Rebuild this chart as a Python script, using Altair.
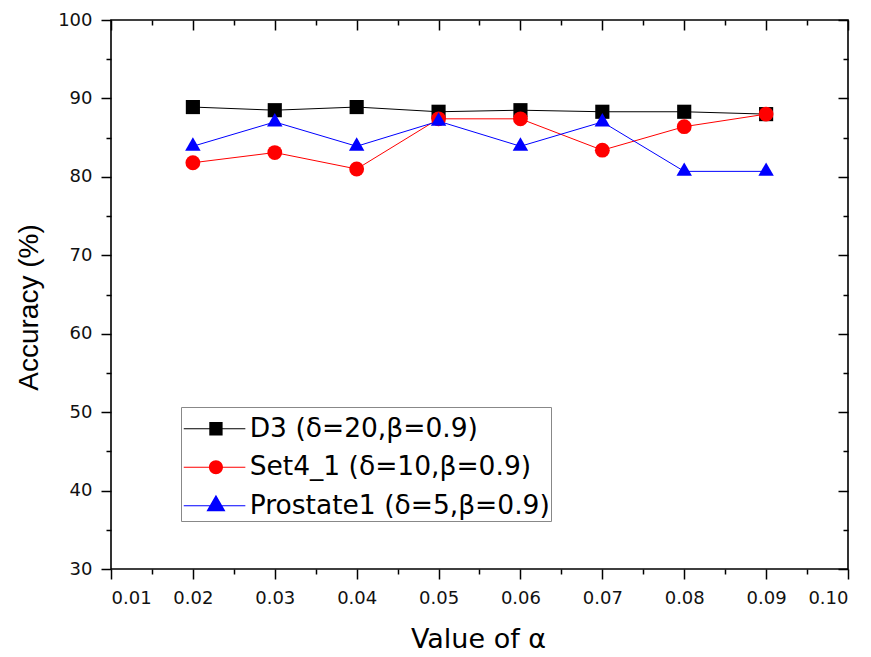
import altair as alt
import pandas as pd

# ---------------- data ----------------
alphas = [0.02, 0.03, 0.04, 0.05, 0.06, 0.07, 0.08, 0.09]
series_names = ["D3 (δ=20,β=0.9)", "Set4_1 (δ=10,β=0.9)", "Prostate1 (δ=5,β=0.9)"]
d3 = [88.9, 88.5, 88.9, 88.3, 88.5, 88.3, 88.3, 88.0]
set4_1 = [81.8, 83.1, 81.0, 87.4, 87.4, 83.4, 86.4, 88.0]
prostate1 = [83.9, 87.0, 83.9, 87.1, 83.9, 87.0, 80.7, 80.7]
series_colors = ["#000000", "#ff0000", "#0000ff"]

x_major = [0.01, 0.02, 0.03, 0.04, 0.05, 0.06, 0.07, 0.08, 0.09, 0.10]
x_minor = [0.015, 0.025, 0.035, 0.045, 0.055, 0.065, 0.075, 0.085, 0.095]
y_major = [30, 40, 50, 60, 70, 80, 90, 100]
y_minor = [35, 45, 55, 65, 75, 85, 95]

rows = []
for name, vals in zip(series_names, [d3, set4_1, prostate1]):
    for a, v in zip(alphas, vals):
        rows.append({"series": name, "alpha": a, "acc": v})
df = pd.DataFrame(rows)

# ---------------- styling ----------------
FONT = "DejaVu Sans"
TRI = "M0,-1.155L1,0.577L-1,0.577Z"
plot_shapes = ["square", "circle", TRI]
plot_sizes = [200, 240, 361]

LINE = "M-4.6,-0.07H4.2V0.07H-4.6Z"
legend_shapes = [
    LINE + "M-0.95,-0.95H0.95V0.95H-0.95Z",
    LINE + "M1,0A1,1 0 1,1 -1,0A1,1 0 1,1 1,0Z",
    LINE + "M0,-1.57L1.36,0.785L-1.36,0.785Z",
]

xscale = alt.Scale(domain=[0.01, 0.10], nice=False, zero=False)
yscale = alt.Scale(domain=[30, 100], nice=False, zero=False)


def ax(orient, values, tick, labels=False, offset=0, title=None, **kw):
    args = dict(
        orient=orient, values=values, tickSize=tick, labels=labels,
        domain=False, grid=False, ticks=True, tickColor="#000000",
        tickWidth=1.5, offset=offset, title=title,
    )
    args.update(kw)
    return alt.Axis(**args)


base = alt.Chart(df)

lines = base.mark_line(strokeWidth=1).encode(
    x=alt.X("alpha:Q", scale=xscale,
            axis=ax("bottom", x_major, 10, labels=True, title="Value of α",
                    format=".2f", labelFont=FONT, labelFontSize=18, labelColor="#111111",
                    labelPadding=10, titleFont=FONT, titleFontSize=27, titleFontWeight="normal",
                    titleColor="#000000", titleX=367, titleY=78, titleBaseline="alphabetic",
                    titleAlign="center")),
    y=alt.Y("acc:Q", scale=yscale,
            axis=ax("left", y_major, 10, labels=True, title="Accuracy (%)",
                    labelFont=FONT, labelFontSize=18, labelColor="#111111", labelPadding=9,
                    titleFont="Liberation Sans", titleFontSize=28, titleFontWeight="normal",
                    titleColor="#000000", titleX=-74, titleY=287, titleAngle=270,
                    titleBaseline="alphabetic", titleAlign="center")),
    color=alt.Color("series:N", scale=alt.Scale(domain=series_names, range=series_colors), legend=None),
    detail="series:N",
)

points = base.mark_point(filled=True, opacity=1, strokeWidth=0).encode(
    x=alt.X("alpha:Q", scale=xscale, axis=ax("bottom", x_minor, 5)),
    y=alt.Y("acc:Q", scale=yscale, axis=ax("left", y_minor, 5)),
    color=alt.Color("series:N", scale=alt.Scale(domain=series_names, range=series_colors), legend=None),
    shape=alt.Shape("series:N", scale=alt.Scale(domain=series_names, range=plot_shapes), legend=None),
    size=alt.Size("series:N", scale=alt.Scale(domain=series_names, range=plot_sizes), legend=None),
)

legend_props = dict(
    orient="none", legendX=70, legendY=387, title=" ",
    titleFontSize=1, titlePadding=6.5,
    symbolSize=196, symbolStrokeWidth=0, symbolOffset=20.7,
    labelOffset=20.5, labelFont=FONT, labelFontSize=26.5, labelColor="#000000",
    labelLimit=500,
    padding=1, rowPadding=11.5, strokeColor="#888888", fillColor="#ffffff",
)

legend_layer = base.transform_filter("false").mark_point(filled=True, opacity=1).encode(
    x=alt.X("alpha:Q", scale=xscale, axis=ax("top", x_major, 10, offset=-10)),
    y=alt.Y("acc:Q", scale=yscale, axis=ax("right", y_major, 10, offset=-10)),
    color=alt.Color("series:N", scale=alt.Scale(domain=series_names, range=series_colors),
                    legend=alt.Legend(**legend_props)),
    shape=alt.Shape("series:N", scale=alt.Scale(domain=series_names, range=legend_shapes),
                    legend=alt.Legend(**legend_props)),
)

minor_top_right = base.transform_filter("false").mark_point(opacity=1).encode(
    x=alt.X("alpha:Q", scale=xscale, axis=ax("top", x_minor, 5, offset=-5)),
    y=alt.Y("acc:Q", scale=yscale, axis=ax("right", y_minor, 5, offset=-5)),
)

chart = alt.layer(lines, points, legend_layer, minor_top_right).resolve_scale(
    color="independent", shape="independent"
).resolve_axis(
    x="independent", y="independent"
).properties(
    width=737, height=549,
    autosize=alt.AutoSizeParams(type="none"),
    padding={"left": 111, "top": 20, "right": 23, "bottom": 88},
    background="#ffffff",
).configure_view(
    stroke="#000000", strokeWidth=1.6
)

chart.save("out.html", embed_options={"renderer": "svg", "actions": False})
